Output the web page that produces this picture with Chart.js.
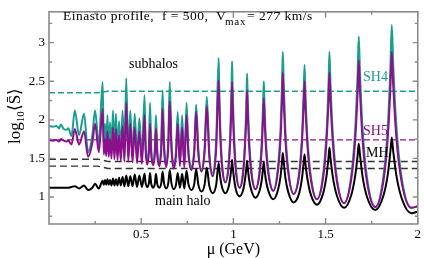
<!DOCTYPE html>
<html><head><meta charset="utf-8">
<script src="https://cdn.jsdelivr.net/npm/chart.js@4.4.1/dist/chart.umd.min.js"></script>
<style>html,body{margin:0;padding:0;background:#fff;}canvas{display:block;}</style>
</head><body>
<canvas id="c" width="424" height="258" style="width:424px;height:258px"></canvas>
<script>
// ---- data ----
const mu = [
 0, 0.02, 0.04, 0.055, 0.065, 0.08, 0.095, 0.105, 0.122, 0.14, 0.163, 0.19, 0.212, 0.235, 0.25, 0.27,
 0.291, 0.2975, 0.304, 0.3105, 0.317, 0.324, 0.331, 0.339, 0.347, 0.355, 0.363, 0.3715, 0.380, 0.3895, 0.399, 0.409, 0.419, 0.43, 0.441, 0.453, 0.465, 0.4775, 0.490, 0.504,
 0.518, 0.524, 0.533, 0.542, 0.548, 0.554, 0.564, 0.574, 0.580, 0.587, 0.598, 0.609, 0.616, 0.624, 0.6355, 0.647, 0.655, 0.664, 0.6765, 0.689, 0.698, 0.710, 0.722, 0.734, 0.746, 0.756, 0.772, 0.788, 0.798, 0.810, 0.827, 0.844, 0.856, 0.869, 0.888, 0.907,
 0.920, 0.923, 0.929, 0.938, 0.9565, 0.975, 0.984, 0.990,
 0.993, 0.996, 1.003, 1.013, 1.0335, 1.054, 1.064, 1.071,
 1.074, 1.078, 1.085, 1.097, 1.1195, 1.142, 1.154, 1.161,
 1.165, 1.169, 1.177, 1.191, 1.2165, 1.242, 1.256, 1.264,
 1.268, 1.273, 1.282, 1.298, 1.327, 1.357, 1.372, 1.381,
 1.386, 1.391, 1.402, 1.420, 1.4535, 1.487, 1.505, 1.516,
 1.521, 1.527, 1.540, 1.561, 1.6005, 1.640, 1.661, 1.674,
 1.680, 1.687, 1.701, 1.725, 1.7695, 1.814, 1.838, 1.852,
 1.859, 1.867, 1.884, 1.912, 1.965, 2.0
];
const sh4 = [
 1.92, 1.91, 1.92, 1.89, 1.94, 1.88, 1.87, 1.89, 1.79, 2.12, 1.80, 2.08, 1.58, 1.80, 2.12, 1.68,
 2.49, 1.62, 1.95, 1.60, 2.06, 1.58, 1.97, 1.57, 2.12, 1.56, 2.08, 1.55, 1.98, 1.54, 2.12, 1.53, 2.54, 1.53, 2.12, 1.52, 2.08, 1.51, 2.02, 1.49,
 2.32, 1.71, 1.45, 1.68, 2.22, 1.67, 1.44, 1.63, 2.06, 1.62, 1.43, 1.72, 2.38, 1.71, 1.42, 1.74, 2.49, 1.73, 1.40, 1.61, 2.10, 1.43, 2.06, 1.41, 2.22, 1.63, 1.38, 1.63, 2.20, 1.61, 1.36, 1.64, 2.30, 1.60, 1.30, 1.75,
 2.80, 2.45, 1.91, 1.46, 1.19, 1.46, 1.90, 2.41,
 2.76, 2.40, 1.86, 1.40, 1.12, 1.37, 1.79, 2.27,
 2.60, 2.27, 1.78, 1.36, 1.10, 1.34, 1.73, 2.19,
 2.50, 2.19, 1.72, 1.32, 1.08, 1.39, 1.89, 2.48,
 2.88, 2.48, 1.87, 1.35, 1.04, 1.32, 1.79, 2.34,
 2.71, 2.33, 1.75, 1.27, 0.97, 1.30, 1.83, 2.46,
 2.88, 2.45, 1.80, 1.25, 0.92, 1.29, 1.89, 2.61,
 3.08, 2.59, 1.87, 1.25, 0.87, 1.27, 1.93, 2.71,
 3.23, 2.71, 1.93, 1.26, 0.86, 0.88
];
const sh5 = [
 1.74, 1.73, 1.74, 1.72, 1.75, 1.73, 1.72, 1.73, 1.68, 1.88, 1.68, 1.85, 1.52, 1.70, 1.95, 1.58,
 2.14, 1.55, 1.75, 1.53, 1.85, 1.52, 1.75, 1.50, 1.90, 1.49, 1.88, 1.48, 1.80, 1.47, 1.92, 1.46, 2.22, 1.46, 1.95, 1.45, 1.90, 1.44, 1.85, 1.43,
 2.06, 1.61, 1.42, 1.58, 1.95, 1.57, 1.41, 1.55, 1.89, 1.55, 1.40, 1.62, 2.14, 1.62, 1.39, 1.65, 2.24, 1.63, 1.37, 1.54, 1.95, 1.40, 1.90, 1.38, 2.06, 1.56, 1.35, 1.58, 2.10, 1.56, 1.33, 1.59, 2.18, 1.54, 1.27, 1.64,
 2.51, 2.22, 1.78, 1.41, 1.19, 1.41, 1.78, 2.20,
 2.49, 2.19, 1.74, 1.35, 1.12, 1.33, 1.69, 2.10,
 2.38, 2.10, 1.68, 1.32, 1.10, 1.30, 1.63, 2.02,
 2.28, 2.02, 1.62, 1.28, 1.08, 1.34, 1.77, 2.27,
 2.61, 2.27, 1.75, 1.31, 1.04, 1.29, 1.70, 2.18,
 2.50, 2.16, 1.66, 1.23, 0.97, 1.25, 1.71, 2.25,
 2.61, 2.24, 1.68, 1.21, 0.92, 1.24, 1.75, 2.36,
 2.77, 2.35, 1.73, 1.19, 0.87, 1.21, 1.78, 2.44,
 2.88, 2.44, 1.77, 1.20, 0.86, 0.88
];
const mainHalo = [
 1.12, 1.12, 1.12, 1.12, 1.12, 1.12, 1.12, 1.12, 1.13, 1.14, 1.11, 1.15, 1.09, 1.12, 1.17, 1.11,
 1.21, 1.16, 1.22, 1.16, 1.23, 1.16, 1.22, 1.15, 1.24, 1.15, 1.23, 1.15, 1.25, 1.15, 1.26, 1.14, 1.28, 1.14, 1.27, 1.14, 1.29, 1.13, 1.28, 1.13,
 1.30, 1.18, 1.13, 1.18, 1.31, 1.18, 1.12, 1.17, 1.30, 1.17, 1.12, 1.18, 1.33, 1.18, 1.11, 1.18, 1.35, 1.18, 1.10, 1.16, 1.31, 1.12, 1.30, 1.11, 1.34, 1.17, 1.09, 1.17, 1.36, 1.16, 1.07, 1.16, 1.38, 1.15, 1.05, 1.16,
 1.44, 1.37, 1.25, 1.13, 1.05, 1.14, 1.27, 1.40,
 1.48, 1.40, 1.25, 1.10, 1.01, 1.10, 1.24, 1.39,
 1.47, 1.38, 1.23, 1.09, 0.99, 1.08, 1.22, 1.37,
 1.45, 1.36, 1.21, 1.07, 0.97, 1.09, 1.27, 1.46,
 1.57, 1.46, 1.25, 1.06, 0.93, 1.05, 1.24, 1.44,
 1.55, 1.43, 1.23, 1.03, 0.90, 1.05, 1.27, 1.51,
 1.64, 1.50, 1.25, 1.02, 0.86, 1.03, 1.28, 1.54,
 1.69, 1.54, 1.26, 1.00, 0.83, 1.02, 1.30, 1.60,
 1.77, 1.59, 1.28, 0.99, 0.79, 0.81
];
// averaged (dashed) levels
const avgX      = [0, 0.265, 0.32, 2];
const sh4Avg    = [2.35, 2.35, 2.37, 2.37];
const sh5Avg    = [1.74, 1.74, 1.74, 1.74];
const mhAvgHigh = [1.49, 1.49, 1.46, 1.46];
const mhAvgLow  = [1.40, 1.40, 1.37, 1.37];
// ticks
const xTickLabels = [0.5, 1, 1.5, 2];
const xMinorTicks = [0.25, 0.75, 1.25, 1.75];
const yTickLabels = [1, 1.5, 2, 2.5, 3];
const yMinorTicks = [0.75, 1.25, 1.75, 2.25, 2.75, 3.25];

// ---- styles ----
const TEAL = '#1c9e8e', PURPLE = '#8c108c', BLACK = '#000000';
const SERIF = '"Liberation Serif","Times New Roman",serif';

const n = Math.min(mu.length, sh4.length, sh5.length, mainHalo.length);
const pts = arr => mu.slice(0, n).map((x, i) => ({x: x, y: arr[i]}));
const avgPts = arr => avgX.map((x, i) => ({x: x, y: arr[i]}));

const curve = (label, arr, color, order) => ({
  label, data: pts(arr), borderColor: color, borderWidth: 2, pointRadius: 0,
  cubicInterpolationMode: 'monotone', fill: false, order
});
const dashed = (label, arr, color, dash) => ({
  label, data: avgPts(arr), borderColor: color, borderWidth: 1.4, borderDash: dash,
  pointRadius: 0, tension: 0, fill: false, order: 5
});

const decor = {
  id: 'decor',
  afterDraw(chart) {
    const {ctx, chartArea: a, scales: {x, y}} = chart;
    ctx.save();
    // frame
    ctx.strokeStyle = '#8a8a8a'; ctx.lineWidth = 1.6;
    ctx.strokeRect(a.left, a.top, a.right - a.left, a.bottom - a.top);
    // inward ticks on all sides
    ctx.lineWidth = 1.4;
    const tickX = (v, len) => { const p = x.getPixelForValue(v);
      ctx.beginPath(); ctx.moveTo(p, a.bottom); ctx.lineTo(p, a.bottom - len);
      ctx.moveTo(p, a.top); ctx.lineTo(p, a.top + len); ctx.stroke(); };
    const tickY = (v, len) => { const p = y.getPixelForValue(v);
      ctx.beginPath(); ctx.moveTo(a.left, p); ctx.lineTo(a.left + len, p);
      ctx.moveTo(a.right, p); ctx.lineTo(a.right - len, p); ctx.stroke(); };
    xTickLabels.forEach(v => tickX(v, 6)); xMinorTicks.forEach(v => tickX(v, 3));
    yTickLabels.forEach(v => tickY(v, 5)); yMinorTicks.forEach(v => tickY(v, 3));

    ctx.textBaseline = 'alphabetic'; ctx.textAlign = 'left';
    // title
    ctx.fillStyle = BLACK;
    ctx.letterSpacing = '0.5px';
    ctx.font = '13.5px ' + SERIF;
    ctx.fillText('Einasto profile,  f = 500,', 63, 20);
    ctx.fillText('V', 216, 20);
    ctx.letterSpacing = '0.8px';
    ctx.font = '11px ' + SERIF;
    ctx.fillText('max', 225, 25);
    ctx.letterSpacing = '0.5px';
    ctx.font = '13.5px ' + SERIF;
    ctx.fillText('= 277 km/s', 247, 20);
    ctx.letterSpacing = '0px';
    // curve labels
    ctx.font = '14px ' + SERIF;
    ctx.fillText('subhalos', 129, 68);
    ctx.fillText('main halo', 155, 205);
    ctx.fillStyle = TEAL; ctx.fillText('SH4', 363, 81);
    ctx.fillStyle = PURPLE; ctx.fillText('SH5', 363, 135);
    ctx.fillStyle = BLACK; ctx.fillText('MH', 366, 157);
    // x title
    ctx.font = '16px ' + SERIF; ctx.textAlign = 'center';
    ctx.fillText('\u03bc (GeV)', (a.left + a.right) / 2, 254);
    // y title
    ctx.translate(20, 116); ctx.rotate(-Math.PI / 2);
    ctx.textAlign = 'left';
    const f1 = '17px ' + SERIF, f2 = '11px ' + SERIF;
    ctx.font = f1; const w1 = ctx.measureText('log').width;
    ctx.font = f2; const w2 = ctx.measureText('10').width;
    ctx.font = f1; const w3 = ctx.measureText('\u27e8S\u0304\u27e9').width;
    let sx = -(w1 + w2 + w3) / 2;
    ctx.font = f1; ctx.fillText('log', sx, 0); sx += w1;
    ctx.font = f2; ctx.fillText('10', sx, 4); sx += w2;
    ctx.font = f1; ctx.fillText('\u27e8S\u0304\u27e9', sx, 0);
    ctx.restore();
  }
};

new Chart(document.getElementById('c'), {
  type: 'line',
  data: { datasets: [
    dashed('SH4 avg', sh4Avg, TEAL, [6, 3]),
    dashed('SH5 avg', sh5Avg, PURPLE, [6, 3]),
    dashed('MH avg 1', mhAvgHigh, '#333333', [7, 4]),
    dashed('MH avg 2', mhAvgLow, '#333333', [7, 4]),
    curve('SH4', sh4, TEAL, 3),
    curve('SH5', sh5, PURPLE, 2),
    curve('main halo', mainHalo, BLACK, 1)
  ]},
  options: {
    responsive: false, animation: false, devicePixelRatio: 1,
    layout: { padding: { left: 0, right: 4, top: 1, bottom: 0 } },
    plugins: { legend: { display: false }, tooltip: { enabled: false } },
    scales: {
      x: { type: 'linear', min: 0, max: 2,
        grid: { display: false, drawTicks: false }, border: { display: false },
        afterBuildTicks: s => { s.ticks = xTickLabels.map(v => ({value: v})); },
        afterFit: s => { s.height = 34; },
        ticks: { autoSkip: false, maxRotation: 0, padding: 3, color: '#000',
          font: { family: SERIF, size: 13 }, callback: v => String(v) } },
      y: { type: 'linear', min: 0.65, max: 3.4,
        grid: { display: false, drawTicks: false }, border: { display: false },
        afterBuildTicks: s => { s.ticks = yTickLabels.map(v => ({value: v})); },
        afterFit: s => { s.width = 49; },
        ticks: { autoSkip: false, padding: 4, color: '#000',
          font: { family: SERIF, size: 13 }, callback: v => String(v) } }
    }
  },
  plugins: [decor]
});
</script>
</body></html>
